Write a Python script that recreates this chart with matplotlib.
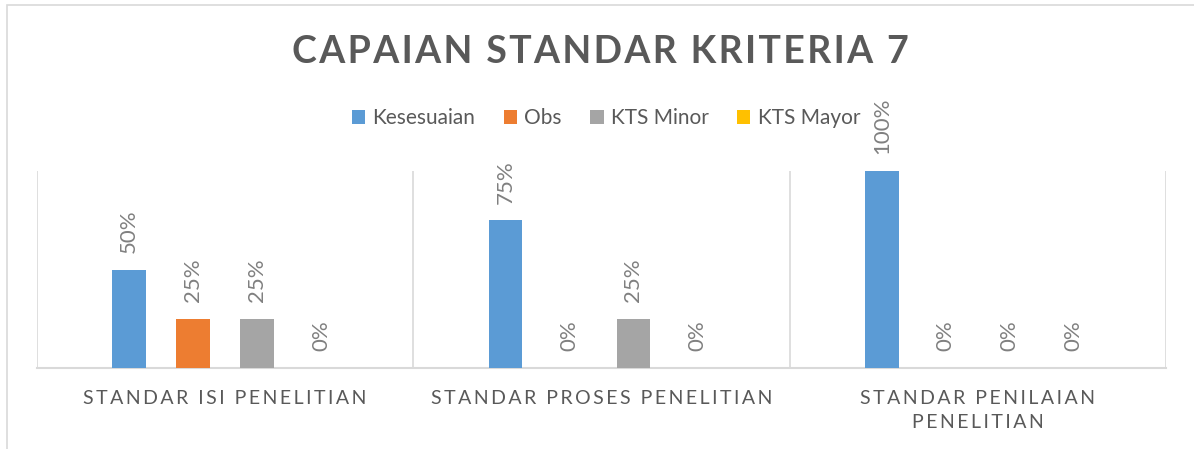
import matplotlib.pyplot as plt
import numpy as np
from matplotlib.patches import Rectangle

categories = ["STANDAR ISI PENELITIAN", "STANDAR PROSES PENELITIAN", "STANDAR PENILAIAN\nPENELITIAN"]
series = ["Kesesuaian", "Obs", "KTS Minor", "KTS Mayor"]
kesesuaian = [50, 75, 100]
obs = [25, 0, 0]
kts_minor = [25, 25, 0]
kts_mayor = [0, 0, 0]
colors = ["#5B9BD5", "#ED7D31", "#A5A5A5", "#FFC000"]

FONT = ["Lato", "DejaVu Sans"]
TXT = "#595959"


def spaced(s, sep="\u2009"):
    # fake letter spacing like the Excel axis labels
    return "\n".join(sep.join(line) for line in s.split("\n"))


fig = plt.figure(figsize=(11.94, 4.49), dpi=100)
ax = fig.add_axes([37 / 1194, 1 - 368 / 449, (1166 - 37) / 1194, (368 - 171) / 449])

# outer chart frame
fig.patches.append(Rectangle((7 / 1194, -0.1), 1.2, 1 - 5 / 449 + 0.1, transform=fig.transFigure,
                             fill=False, edgecolor="#D9D9D9", linewidth=1.2))

x = np.arange(len(categories))
pitch = 0.17
width = 0.09
data = [kesesuaian, obs, kts_minor, kts_mayor]
for i, (name, vals, c) in enumerate(zip(series, data, colors)):
    pos = x + (i - 1.5) * pitch
    bars = ax.bar(pos, vals, width=width, color=c, label=name, zorder=3)
    for b, v in zip(bars, vals):
        ax.annotate(f"{v}%", (b.get_x() + b.get_width() / 2, v), xytext=(0, 12),
                    textcoords="offset points", rotation=90, ha="center", va="bottom",
                    fontsize=16, color="#808080", family=FONT)

ax.set_xlim(-0.5, 2.5)
ax.set_ylim(0, 100)
ax.set_yticks([])
for b in [-0.5, 0.5, 1.5, 2.5]:
    ax.axvline(b, color="#D9D9D9", linewidth=1.2, zorder=1)
for s in ["top", "left", "right"]:
    ax.spines[s].set_visible(False)
ax.spines["bottom"].set_color("#D9D9D9")
ax.spines["bottom"].set_linewidth(1.5)
ax.set_xticks(x)
ax.set_xticklabels([spaced(c) for c in categories], fontsize=14, color=TXT, family=FONT,
                   linespacing=1.5)
ax.tick_params(axis="x", length=0, pad=16)

fig.text(600 / 1194, 1 - 52 / 449, spaced("CAPAIAN STANDAR KRITERIA 7", "\u200a"), ha="center", va="center",
         fontsize=27, fontweight="bold", color=TXT, family=FONT)

leg = fig.legend(loc="center", bbox_to_anchor=(606 / 1194, 1 - 118 / 449), ncol=4, frameon=False,
                 prop={"family": FONT, "size": 15}, handlelength=0.65, handleheight=0.65,
                 handletextpad=0.35, columnspacing=1.35)
for t in leg.get_texts():
    t.set_color(TXT)

fig.savefig("out.png", dpi=100)
